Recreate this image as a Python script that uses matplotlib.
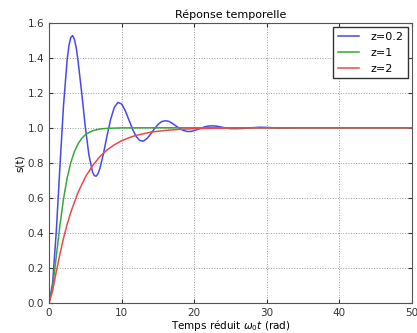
import matplotlib
matplotlib.use('Agg')
import matplotlib.pyplot as plt

# step responses (reduced time, s(t))
t_z02 = [0, 0.5, 1, 1.5, 2, 2.5, 2.75, 3, 3.25, 3.5, 3.75, 4, 4.5, 5, 5.5, 6,
         6.25, 6.5, 6.75, 7, 7.5, 8, 8.5, 9, 9.5, 10, 10.5, 11, 11.5, 12, 12.5,
         13, 13.5, 14, 14.5, 15, 15.5, 16, 16.5, 17, 17.5, 18, 18.5, 19, 19.5,
         20, 20.5, 21, 21.5, 22, 22.5, 23, 23.5, 24, 24.5, 25, 26, 27, 28, 29,
         30, 31, 32, 34, 40, 45, 50]
s_z02 = [0, 0.115, 0.405, 0.775, 1.128, 1.388, 1.470, 1.515, 1.526, 1.505,
         1.457, 1.382, 1.201, 1.005, 0.845, 0.746, 0.727, 0.724, 0.738, 0.766,
         0.852, 0.956, 1.050, 1.117, 1.145, 1.136, 1.098, 1.046, 0.993, 0.951,
         0.927, 0.924, 0.939, 0.964, 0.993, 1.018, 1.035, 1.040, 1.037, 1.025,
         1.010, 0.996, 0.985, 0.979, 0.979, 0.984, 0.991, 0.999, 1.006, 1.010,
         1.011, 1.010, 1.006, 1.002, 0.998, 0.995, 0.995, 0.997, 1.0005, 1.003,
         1.002, 1.000, 0.9986, 1.0, 1.0, 1.0, 1.0]

t_z1 = [0, 0.5, 1, 1.5, 2, 2.5, 3, 3.5, 4, 4.5, 5, 5.5, 6, 7, 8, 10, 15, 50]
s_z1 = [0, 0.090, 0.264, 0.442, 0.594, 0.713, 0.801, 0.864, 0.908, 0.939, 0.960,
        0.973, 0.983, 0.993, 0.997, 0.9995, 1.0, 1.0]

t_z2 = [0, 0.5, 1, 1.5, 2, 2.5, 3, 4, 5, 6, 7, 8, 9, 10, 11, 12, 14, 16, 18, 20,
        25, 30, 40, 50]
s_z2 = [0, 0.070, 0.178, 0.279, 0.370, 0.449, 0.518, 0.631, 0.718, 0.784, 0.835,
        0.874, 0.903, 0.926, 0.943, 0.957, 0.975, 0.985, 0.991, 0.995, 0.9987,
        0.9997, 1.0, 1.0]

fig = plt.figure(figsize=(4.17, 3.33), dpi=100)
ax = fig.add_axes([0.1175, 0.09, 0.8705, 0.842])

ax.plot(t_z02, s_z02, color='#4848ee', lw=1.1, label='z=0.2')
ax.plot(t_z1, s_z1, color='#38a838', lw=1.1, label='z=1')
ax.plot(t_z2, s_z2, color='#ee4848', lw=1.1, label='z=2')

ax.set_xlim(0, 50)
ax.set_ylim(0, 1.6)
ax.set_xticks([0, 10, 20, 30, 40, 50])
ax.set_yticks([0, 0.2, 0.4, 0.6, 0.8, 1.0, 1.2, 1.4, 1.6])
ax.set_yticklabels(['0.0', '0.2', '0.4', '0.6', '0.8', '1.0', '1.2', '1.4', '1.6'])
ax.grid(True, color='#999999', linestyle=':', linewidth=0.7)
ax.tick_params(direction='in', top=True, right=True, labelsize=7.5, length=3,
               colors='#333333')
for sp in ax.spines.values():
    sp.set_color('#555555')

ax.set_title('Réponse temporelle', fontsize=8, pad=3)
ax.set_xlabel(r'Temps réduit $\omega_0t$ (rad)', fontsize=7.5, labelpad=0)
ax.set_ylabel('s(t)', fontsize=7.5, labelpad=2)

leg = ax.legend(loc='upper right', fontsize=8, fancybox=False, framealpha=1,
                edgecolor='#333333', handlelength=1.9, handletextpad=1.0,
                borderaxespad=0.4, labelspacing=0.55)

fig.savefig('out.png', dpi=100)
